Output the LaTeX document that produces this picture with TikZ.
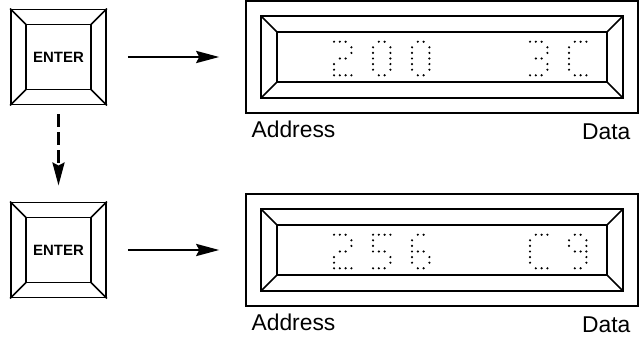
\documentclass[tikz,border=0pt]{standalone}
\usepackage{fontspec}
\setmainfont{Liberation Sans}
\usetikzlibrary{arrows.meta,calc,positioning}

% dot patterns (column/row) of the display characters
\def\glyphTwo{1/1,2/1,3/1,4/2,4/3,2/4,3/4,1/5,1/6,1/7,2/7,3/7,4/7}
\def\glyphZero{2/1,3/1,1/2,1/3,1/4,1/5,1/6,4/2,4/3,4/4,4/5,4/6,2/7,3/7}
\def\glyphThree{1/1,2/1,3/1,4/2,4/3,2/4,3/4,4/5,4/6,1/7,2/7,3/7}
\def\glyphCee{2/1,3/1,4/1,1/2,1/3,1/4,1/5,1/6,2/7,3/7,4/7}
\def\glyphFive{1/1,2/1,3/1,4/1,1/2,1/3,1/4,2/4,3/4,4/5,4/6,1/7,2/7,3/7}
\def\glyphSix{2/1,3/1,1/2,1/3,1/4,2/4,3/4,1/5,4/5,1/6,4/6,2/7,3/7}
\def\glyphNine{2/1,3/1,1/2,4/2,1/3,4/3,2/4,3/4,4/4,4/5,4/6,2/7,3/7}
\newcommand{\dotglyph}[3]{%
  \foreach \i/\j in #3
    \fill ({#1+(\i-1)*5.8},{#2+(\j-1)*5.6}) circle[radius=1.2];}

\begin{document}
\begin{tikzpicture}[x=0.2mm, y=-0.2mm,
  keybox/.style={draw, line width=0.38mm, minimum size=19mm, inner sep=0pt,
     font=\bfseries\fontsize{8.5}{10}\selectfont},
  display/.style={draw, line width=0.3mm, minimum width=78.4mm,
     minimum height=22.4mm, inner sep=0pt},
  bevel/.style={line width=0.3mm},
  feed/.style={-{Stealth[length=4.6mm, width=2.4mm, inset=0.6mm]}, line width=0.55mm},
  subtext/.style={font=\fontsize{13}{15}\selectfont, inner sep=0pt}]
\useasboundingbox (0,0) rectangle (641,341);
\node[keybox] (key1) at (58.5,57)  {ENTER};
\node[keybox] (key2) at (58.5,250) {ENTER};
\node[display] (disp1) at (442,57)  {};
\node[display] (disp2) at (442,250) {};
% bevelled frames
\foreach \k in {key1,key2} {
  \draw[bevel] ($(\k.north west)+(16,16)$) rectangle ($(\k.south east)+(-16,-16)$);
  \foreach \a/\sx/\sy in {north west/1/1, north east/-1/1, south west/1/-1, south east/-1/-1}
    \draw[bevel] (\k.\a) -- ($(\k.\a)+(16*\sx,16*\sy)$);
}
\foreach \d in {disp1,disp2} {
  \draw[bevel] ($(\d.north west)+(16,16)$) rectangle ($(\d.south east)+(-16,-16)$);
  \draw[bevel] ($(\d.north west)+(32,32)$) rectangle ($(\d.south east)+(-32,-32)$);
  \foreach \a/\sx/\sy in {north west/1/1, north east/-1/1, south west/1/-1, south east/-1/-1}
    \draw[bevel] ($(\d.\a)+(16*\sx,16*\sy)$) -- ($(\d.\a)+(32*\sx,32*\sy)$);
}
% readouts
\dotglyph{334}{41.7}{\glyphTwo}
\dotglyph{373}{41.7}{\glyphZero}
\dotglyph{412}{41.7}{\glyphZero}
\dotglyph{530}{41.7}{\glyphThree}
\dotglyph{569}{41.7}{\glyphCee}
\dotglyph{334}{234.7}{\glyphTwo}
\dotglyph{373}{234.7}{\glyphFive}
\dotglyph{412}{234.7}{\glyphSix}
\dotglyph{530}{234.7}{\glyphCee}
\dotglyph{569}{234.7}{\glyphNine}
\node[subtext, anchor=north west] (addr1) at ($(disp1.south west)+(6,7)$)   {Address};
\node[subtext, anchor=north east] (data1) at ($(disp1.south east)+(-8,10)$) {Data};
\node[subtext, anchor=north west] (addr2) at ($(disp2.south west)+(6,7)$)   {Address};
\node[subtext, anchor=north east] (data2) at ($(disp2.south east)+(-8,10)$) {Data};
% key presses
\draw[feed, shorten <=4.2mm, shorten >=5.2mm] (key1) -- (disp1);
\draw[feed, shorten <=4.2mm, shorten >=5.2mm] (key2) -- (disp2);
\draw[feed, dash pattern=on 2.6mm off 1mm, shorten <=1.8mm, shorten >=3.2mm] (key1) -- (key2);
\end{tikzpicture}
\end{document}
